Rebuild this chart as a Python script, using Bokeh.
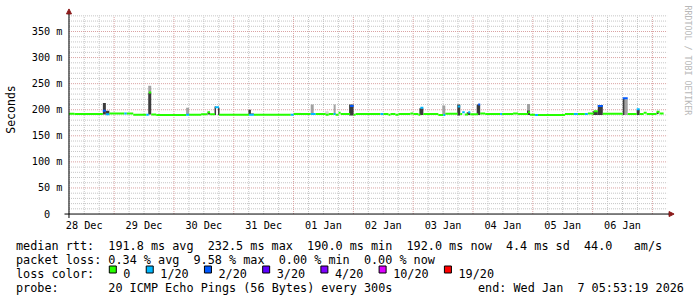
import re
from math import pi
from datetime import datetime, timedelta

from bokeh.plotting import figure
from bokeh.models import Range1d, FixedTicker, Arrow, NormalHead, CustomJSTickFormatter
from bokeh.layouts import column
from bokeh.embed import file_html
from bokeh.resources import INLINE
from bokeh.core.properties import value

# ---------------- data ----------------
start_time = datetime(2025, 12, 28, 5, 53, 19)   # 10 days before "end"
span_hours = 240.0

day_labels = ["28 Dec", "29 Dec", "30 Dec", "31 Dec", "01 Jan",
              "02 Jan", "03 Jan", "04 Jan", "05 Jan", "06 Jan"]
y_ticks = [0, 50, 100, 150, 200, 250, 300, 350]
y_tick_labels = ["0\u00a0\u00a0", "50 m", "100 m", "150 m", "200 m", "250 m", "300 m", "350 m"]
y_top = 380.0  # ms at top of graph

# median rtt, step segments: start (hours since start), value (ms), lost pings of 20
med_start = [0.0, 2.2, 13.6, 14.8, 16.2, 22.2, 23.2, 25.8, 31.0, 32.0,
             33.0, 35.0, 47.0, 48.2, 53.0, 55.6, 56.6, 58.6, 60.2, 72.2,
             74.2, 89.0, 90.2, 97.0, 99.0, 103.0, 104.2, 106.2, 107.0, 108.2,
             109.0, 112.8, 114.2, 115.0, 125.0, 126.2, 128.2, 129.0, 131.0, 132.2,
             137.0, 138.2, 140.2, 141.0, 142.2, 148.2, 150.2, 151.0, 156.0, 157.0,
             157.8, 158.8, 160.2, 161.0, 164.2, 165.0, 167.0, 173.0, 173.8, 178.2,
             180.2, 184.2, 185.0, 187.0, 188.2, 199.0, 202.6, 204.2, 207.0, 208.2,
             210.6, 212.2, 214.2, 222.2, 224.2, 227.8, 229.0, 230.6, 231.8, 235.8, 237.0]
med_last_end = 238.6
med_rtt = [192.3, 191.7, 198.0, 191.3, 192.6, 192.6, 192.6, 190.2, 190.2, 233.0,
           191.0, 190.0, 190.5, 190.5, 191.5, 195.0, 191.5, 205.0, 190.5, 190.5,
           190.5, 190.5, 191.7, 191.7, 191.7, 190.3, 191.7, 191.7, 190.3, 194.0,
           191.7, 207.0, 190.3, 191.7, 191.7, 191.7, 190.3, 191.7, 190.3, 191.7,
           192.6, 191.7, 190.3, 204.0, 191.7, 190.0, 190.0, 192.3, 206.0, 191.7,
           195.0, 191.0, 195.0, 191.3, 210.0, 192.8, 191.7, 191.7, 191.7, 192.6,
           191.7, 195.0, 190.3, 190.0, 190.0, 191.7, 191.7, 191.7, 191.7, 192.6,
           197.0, 207.0, 192.5, 222.0, 191.7, 201.0, 191.7, 194.0, 191.7, 196.0, 193.0]
med_loss = [0, 0, 2, 1, 0, 1, 0, 0, 1, 0,
            0, 0, 1, 0, 0, 0, 0, 1, 0, 1,
            0, 1, 0, 1, 0, 0, 0, 1, 0, 0,
            0, 2, 0, 0, 1, 0, 0, 0, 0, 0,
            0, 0, 0, 1, 0, 0, 1, 0, 1, 0,
            1, 0, 1, 0, 2, 0, 0, 1, 0, 0,
            0, 0, 0, 1, 0, 0, 1, 0, 1, 0,
            0, 2, 0, 2, 0, 1, 0, 0, 0, 0, 0]

# smoke (ping spread): start, end (hours), low, high (ms), shade index
smoke_start = [13.6, 14.8, 31.8, 31.8, 47.0, 55.6, 58.4, 59.8, 72.0, 73.0,
               90.2, 97.0, 102.8, 106.2, 112.4, 140.6, 149.8, 155.8, 159.6, 163.6,
               183.8, 183.8, 210.2, 212.2, 222.2, 223.0, 227.8, 235.8]
smoke_end = [14.8, 16.2, 33.0, 33.0, 48.2, 56.6, 59.0, 60.4, 73.0, 74.2,
             93.0, 98.2, 104.2, 107.0, 114.2, 142.2, 151.0, 157.0, 161.0, 165.0,
             185.0, 185.0, 212.2, 214.2, 223.0, 224.2, 229.0, 236.6]
smoke_lo = [191, 191, 191, 232.5, 191, 191, 190, 190, 191, 191,
            191, 191, 191, 191, 189, 190, 191, 189, 190, 190,
            190, 199, 190, 190, 190, 190, 190, 192]
smoke_hi = [213, 198, 232.5, 246, 204, 196, 206, 204, 200, 193,
            194, 210, 197, 210, 210, 203, 208, 210, 195, 210,
            199, 211, 197, 209, 221, 220, 200, 196]
smoke_shade = [0, 0, 0, 1, 1, 0, 0, 0, 0, 0,
               2, 1, 2, 1, 0, 0, 1, 0, 0, 0,
               0, 1, 0, 0, 0, 1, 0, 0]
shade_colors = ["#3c3c3c", "#a2a2a2", "#d6d6d6"]

loss_labels = ["0", "1/20", "2/20", "3/20", "4/20", "10/20", "19/20"]
loss_colors = ["#26ff00", "#00b8ff", "#0059ff", "#5e00ff", "#7e00ff", "#dd00ff", "#ff0000"]
loss_steps = [0, 1, 2, 3, 4, 10, 19]

legend_rows = [
    "median rtt:  191.8 ms avg  232.5 ms max  190.0 ms min  192.0 ms now  4.4 ms sd  44.0   am/s",
    "packet loss: 0.34 % avg  9.58 % max  0.00 % min  0.00 % now",
    "loss color:",
    "probe:       20 ICMP Echo Pings (56 Bytes) every 300s",
]
end_text = "end: Wed Jan  7 05:53:19 2026"
watermark = "RRDTOOL / TOBI OETIKER"

# ---------------- layout constants (pixels) ----------------
W, H_MAIN, H_LEG = 697, 233, 64
FL, FB = 61, 220          # frame left / bottom
X0, PXH = 66.5, 2.5       # pixel of t=0, pixels per hour
Y0 = 215.5                # pixel of 0 ms
K = 200.0 / y_top         # pixels per ms
MONO = "DejaVu Sans Mono"

def hx(px):   # pixel x -> hours
    return (px - X0) / PXH

def vy(py):   # pixel y -> ms
    return (Y0 - py) / K

p = figure(width=W, height=H_MAIN,
           x_range=Range1d(hx(FL), hx(W)), y_range=Range1d(vy(FB), vy(0)),
           output_backend="svg", toolbar_location=None,
           min_border=0, min_border_left=FL, min_border_bottom=H_MAIN - FB,
           min_border_right=0, min_border_top=0)
p.frame_align = False
p.background_fill_color = "white"
p.border_fill_color = "white"
p.outline_line_color = None
p.xgrid.visible = False
p.ygrid.visible = False

# time ticks
first_midnight = (datetime(2025, 12, 29) - start_time).total_seconds() / 3600.0
first_six = (datetime(2025, 12, 28, 6) - start_time).total_seconds() / 3600.0
noons = [first_midnight - 12 + 24 * i for i in range(len(day_labels))]
midnights = [m for m in (first_midnight + 24 * i for i in range(11)) if m <= span_hours]
sixes = [s for s in (first_six + 6 * i for i in range(41))
         if s <= span_hours and all(abs(s - m) > 1e-6 for m in midnights)]

# grid
minor_y = [v for v in range(10, int(y_top) + 1, 10) if v % 50 != 0]
major_y = [v for v in y_ticks if v > 0]
MINOR_C, MAJOR_C = "#c4c4c4", "#d9a0a0"
p.segment(x0=[0] * len(minor_y), x1=[span_hours] * len(minor_y), y0=minor_y, y1=minor_y,
          line_color=MINOR_C, line_dash="1 1", line_width=1)
p.segment(x0=sixes, x1=sixes, y0=[0] * len(sixes), y1=[y_top] * len(sixes),
          line_color=MINOR_C, line_dash="1 1", line_width=1)
p.segment(x0=[0] * len(major_y), x1=[span_hours] * len(major_y), y0=major_y, y1=major_y,
          line_color=MAJOR_C, line_dash="1 1", line_width=1)
p.segment(x0=midnights, x1=midnights, y0=[0] * len(midnights), y1=[y_top] * len(midnights),
          line_color=MAJOR_C, line_dash="1 1", line_width=1)

# smoke
p.quad(left=smoke_start, right=smoke_end, bottom=smoke_lo, top=smoke_hi,
       fill_color=[shade_colors[s] for s in smoke_shade], line_color=None)

# median line coloured by loss
med_end = med_start[1:] + [med_last_end]
med_col = [loss_colors[loss_steps.index(l)] for l in med_loss]
p.segment(x0=med_start, x1=med_end, y0=med_rtt, y1=med_rtt,
          line_color=med_col, line_width=2, line_cap="butt")

# axes with arrows
ARROW_C = "#8b1a1a"
p.add_layout(Arrow(end=NormalHead(size=5, fill_color=ARROW_C, line_color=ARROW_C),
                   x_start=0, y_start=vy(219.5), x_end=0, y_end=vy(8.5),
                   line_color="black", line_width=1))
p.add_layout(Arrow(end=NormalHead(size=5, fill_color=ARROW_C, line_color=ARROW_C),
                   x_start=hx(62), y_start=0, x_end=hx(673.5), y_end=0,
                   line_color="black", line_width=1))

# axis labelling
for ax in (p.xaxis[0], p.yaxis[0]):
    ax.axis_line_color = None
    ax.major_tick_line_color = None
    ax.minor_tick_line_color = None
    ax.major_tick_in = 0
    ax.major_tick_out = 0
    ax.minor_tick_in = 0
    ax.minor_tick_out = 0
    ax.major_label_text_font = MONO
    ax.major_label_text_font_size = "10.2px"
    ax.major_label_text_color = "black"

p.xaxis.ticker = FixedTicker(ticks=noons)
p.xaxis.formatter = CustomJSTickFormatter(args=dict(noon_pos=noons, day_names=day_labels), code="""
    let best = 0;
    for (let i = 0; i < noon_pos.length; i++) {
        if (Math.abs(noon_pos[i] - tick) < Math.abs(noon_pos[best] - tick)) best = i;
    }
    return day_names[best];
""")
p.xaxis.major_label_standoff = 1

p.yaxis.ticker = FixedTicker(ticks=y_ticks)
p.yaxis.major_label_overrides = dict(zip(y_ticks, y_tick_labels))
p.yaxis.major_label_standoff = 1
p.yaxis.axis_label = "Seconds"
p.yaxis.axis_label_text_font = MONO
p.yaxis.axis_label_text_font_size = "11.5px"
p.yaxis.axis_label_text_font_style = "normal"
p.yaxis.axis_label_text_color = "black"
p.yaxis.axis_label_standoff = 11

# watermark
p.text(x=[hx(687.5)], y=[vy(5)], text=[watermark], angle=-pi / 2,
       text_font=value(MONO), text_font_size="8.3px", text_color="#b8b8b8",
       text_align="left", text_baseline="middle")

# ---------------- legend strip ----------------
q = figure(width=W, height=H_LEG, x_range=Range1d(0, W), y_range=Range1d(H_MAIN + H_LEG, H_MAIN),
           output_backend="svg", toolbar_location=None, min_border=0,
           x_axis_type=None, y_axis_type=None)
q.frame_align = False
q.background_fill_color = "white"
q.border_fill_color = "white"
q.outline_line_color = None
q.xgrid.visible = False
q.ygrid.visible = False

CW = 7.1
LX = 15.5
baselines = [245.3, 259.3, 273.3, 287.3]

def pieces(s):
    return [(m.start(), m.group()) for m in re.finditer(r"\S+(?: \S+)*", s)]

tx, ty, tt = [], [], []
for row, base in zip(legend_rows, baselines):
    for col, txt in pieces(row):
        tx.append(LX + col * CW)
        ty.append(base)
        tt.append(txt)
for col, txt in pieces(end_text):
    tx.append(477.5 + col * CW)
    ty.append(baselines[3])
    tt.append(txt)

sq_left = []
sx = 108.3
for lab in loss_labels:
    sq_left.append(sx)
    tx.append(sx + 2.05 * CW)
    ty.append(baselines[2])
    tt.append(lab)
    sx += (len(lab) + 4.2) * CW

q.text(x=tx, y=ty, text=tt, text_font=value(MONO), text_font_size="11.8px",
       text_color="black", text_align="left", text_baseline="alphabetic")
q.quad(left=[s + 0.5 for s in sq_left], right=[s + 7.5 for s in sq_left],
       top=[265.5] * len(sq_left), bottom=[272.5] * len(sq_left),
       fill_color=loss_colors, line_color="black", line_width=1)

layout = column(p, q, spacing=0)
open("out.html", "w").write(file_html(layout, INLINE))
